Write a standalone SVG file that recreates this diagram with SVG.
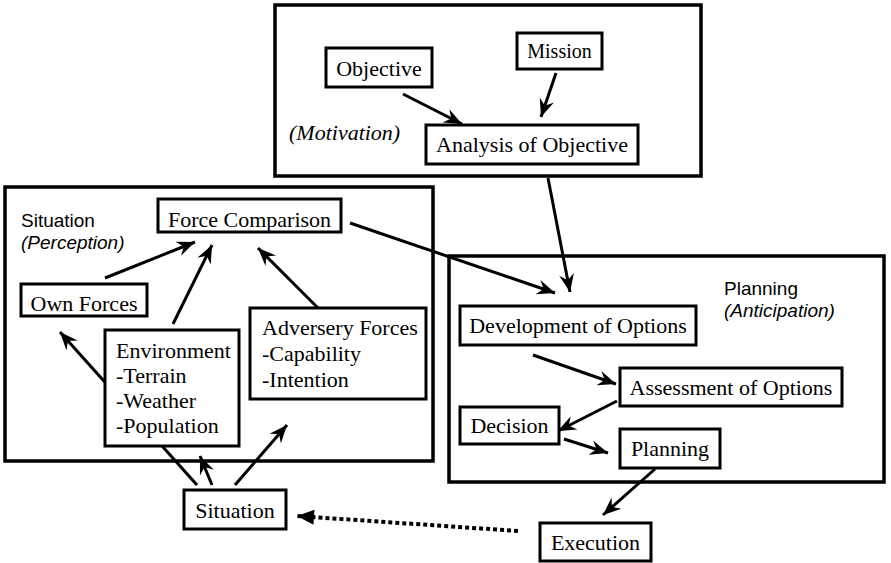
<svg xmlns="http://www.w3.org/2000/svg" width="891" height="563" viewBox="0 0 891 563">
  <style>
    .frame { fill: #fff; stroke: #000; stroke-width: 3.5; }
    .box { fill: #fff; stroke: #000; stroke-width: 3; }
    .t { font-family: "Liberation Serif", "Times New Roman", serif; font-size: 22px; fill: #000; }
    .c { text-anchor: middle; }
    .s { font-family: "Liberation Sans", Arial, sans-serif; font-size: 19px; fill: #000; }
    .it { font-style: italic; }
    .link { stroke: #000; stroke-width: 3; fill: none; marker-end: url(#head); }
    .dots { stroke: #000; stroke-width: 4; fill: none; stroke-dasharray: 4 3; marker-end: url(#tri); }
  </style>
  <defs>
    <marker id="head" markerUnits="userSpaceOnUse" viewBox="-19 -9 20 18" markerWidth="20" markerHeight="18" refX="0" refY="0" orient="auto">
      <path d="M0,0 L-18,-7.5 L-12,0 L-18,7.5 Z" fill="#000"/>
    </marker>
    <marker id="tri" markerUnits="userSpaceOnUse" viewBox="-18 -8 19 16" markerWidth="19" markerHeight="16" refX="0" refY="0" orient="auto">
      <path d="M0,0 L-17,-7.5 L-17,7.5 Z" fill="#000"/>
    </marker>
  </defs>
  <rect width="891" height="563" fill="#fff"/>

  <!-- grouping frames -->
  <g id="motivation-frame">
    <rect class="frame" x="275" y="5" width="426" height="171"/>
    <text class="t it" x="289" y="140">(Motivation)</text>
  </g>
  <g id="situation-frame">
    <rect class="frame" x="5" y="187" width="428" height="274"/>
    <text class="s" x="21" y="227">Situation</text>
    <text class="s it" x="21" y="249">(Perception)</text>
  </g>
  <g id="planning-frame">
    <rect class="frame" x="449" y="256" width="435" height="226"/>
    <text class="s" x="724" y="295">Planning</text>
    <text class="s it" x="724" y="317">(Anticipation)</text>
  </g>

  <!-- connectors -->
  <g id="connectors">
    <line class="link" x1="403" y1="94" x2="462" y2="124"/>
    <line class="link" x1="556" y1="73" x2="541" y2="117"/>
    <line class="link" x1="548" y1="178" x2="570" y2="292"/>
    <line class="link" x1="350" y1="223" x2="555" y2="293"/>
    <line class="link" x1="105" y1="278" x2="195" y2="242"/>
    <line class="link" x1="173" y1="324" x2="212" y2="245"/>
    <line class="link" x1="318" y1="308" x2="258" y2="248"/>
    <line class="link" x1="197" y1="485" x2="60" y2="332"/>
    <line class="link" x1="212" y1="485" x2="200" y2="456"/>
    <line class="link" x1="235" y1="485" x2="287" y2="425"/>
    <line class="link" x1="533" y1="355" x2="616" y2="384"/>
    <line class="link" x1="617" y1="401" x2="558" y2="431"/>
    <line class="link" x1="564" y1="439" x2="608" y2="453"/>
    <line class="link" x1="655" y1="469" x2="603" y2="515"/>
    <line class="dots" x1="518" y1="531" x2="297" y2="516"/>
  </g>

  <!-- nodes -->
  <g id="objective">
    <rect class="box" x="326" y="48" width="106" height="39"/>
    <text class="t c" x="379" y="76">Objective</text>
  </g>
  <g id="mission">
    <rect class="box" x="517" y="33" width="85" height="36"/>
    <text class="t c" x="559.5" y="58" style="font-size:20px">Mission</text>
  </g>
  <g id="analysis">
    <rect class="box" x="426" y="125" width="212" height="39"/>
    <text class="t c" x="532" y="152">Analysis of Objective</text>
  </g>
  <g id="force-comparison">
    <rect class="box" x="158" y="199" width="183" height="33"/>
    <text class="t c" x="249.5" y="227">Force Comparison</text>
  </g>
  <g id="own-forces">
    <rect class="box" x="21" y="284" width="126" height="32"/>
    <text class="t c" x="84" y="311">Own Forces</text>
  </g>
  <g id="environment">
    <rect class="box" x="105" y="330" width="134" height="116"/>
    <text class="t" x="116" y="358">Environment</text>
    <text class="t" x="116" y="383">-Terrain</text>
    <text class="t" x="116" y="408">-Weather</text>
    <text class="t" x="116" y="433">-Population</text>
  </g>
  <g id="adversary-forces">
    <rect class="box" x="250" y="308" width="176" height="91"/>
    <text class="t" x="262" y="335">Adversery Forces</text>
    <text class="t" x="262" y="361">-Capability</text>
    <text class="t" x="262" y="387">-Intention</text>
  </g>
  <g id="situation">
    <rect class="box" x="184" y="490" width="102" height="39"/>
    <text class="t c" x="235" y="518">Situation</text>
  </g>
  <g id="development">
    <rect class="box" x="460" y="306" width="236" height="39"/>
    <text class="t c" x="578" y="333">Development of Options</text>
  </g>
  <g id="assessment">
    <rect class="box" x="620" y="368" width="222" height="38"/>
    <text class="t c" x="731" y="395">Assessment of Options</text>
  </g>
  <g id="decision">
    <rect class="box" x="460" y="407" width="99" height="37"/>
    <text class="t c" x="509.5" y="433">Decision</text>
  </g>
  <g id="planning">
    <rect class="box" x="620" y="429" width="100" height="39"/>
    <text class="t c" x="670" y="456">Planning</text>
  </g>
  <g id="execution">
    <rect class="box" x="540" y="523" width="111" height="38"/>
    <text class="t c" x="595.5" y="550">Execution</text>
  </g>
</svg>
